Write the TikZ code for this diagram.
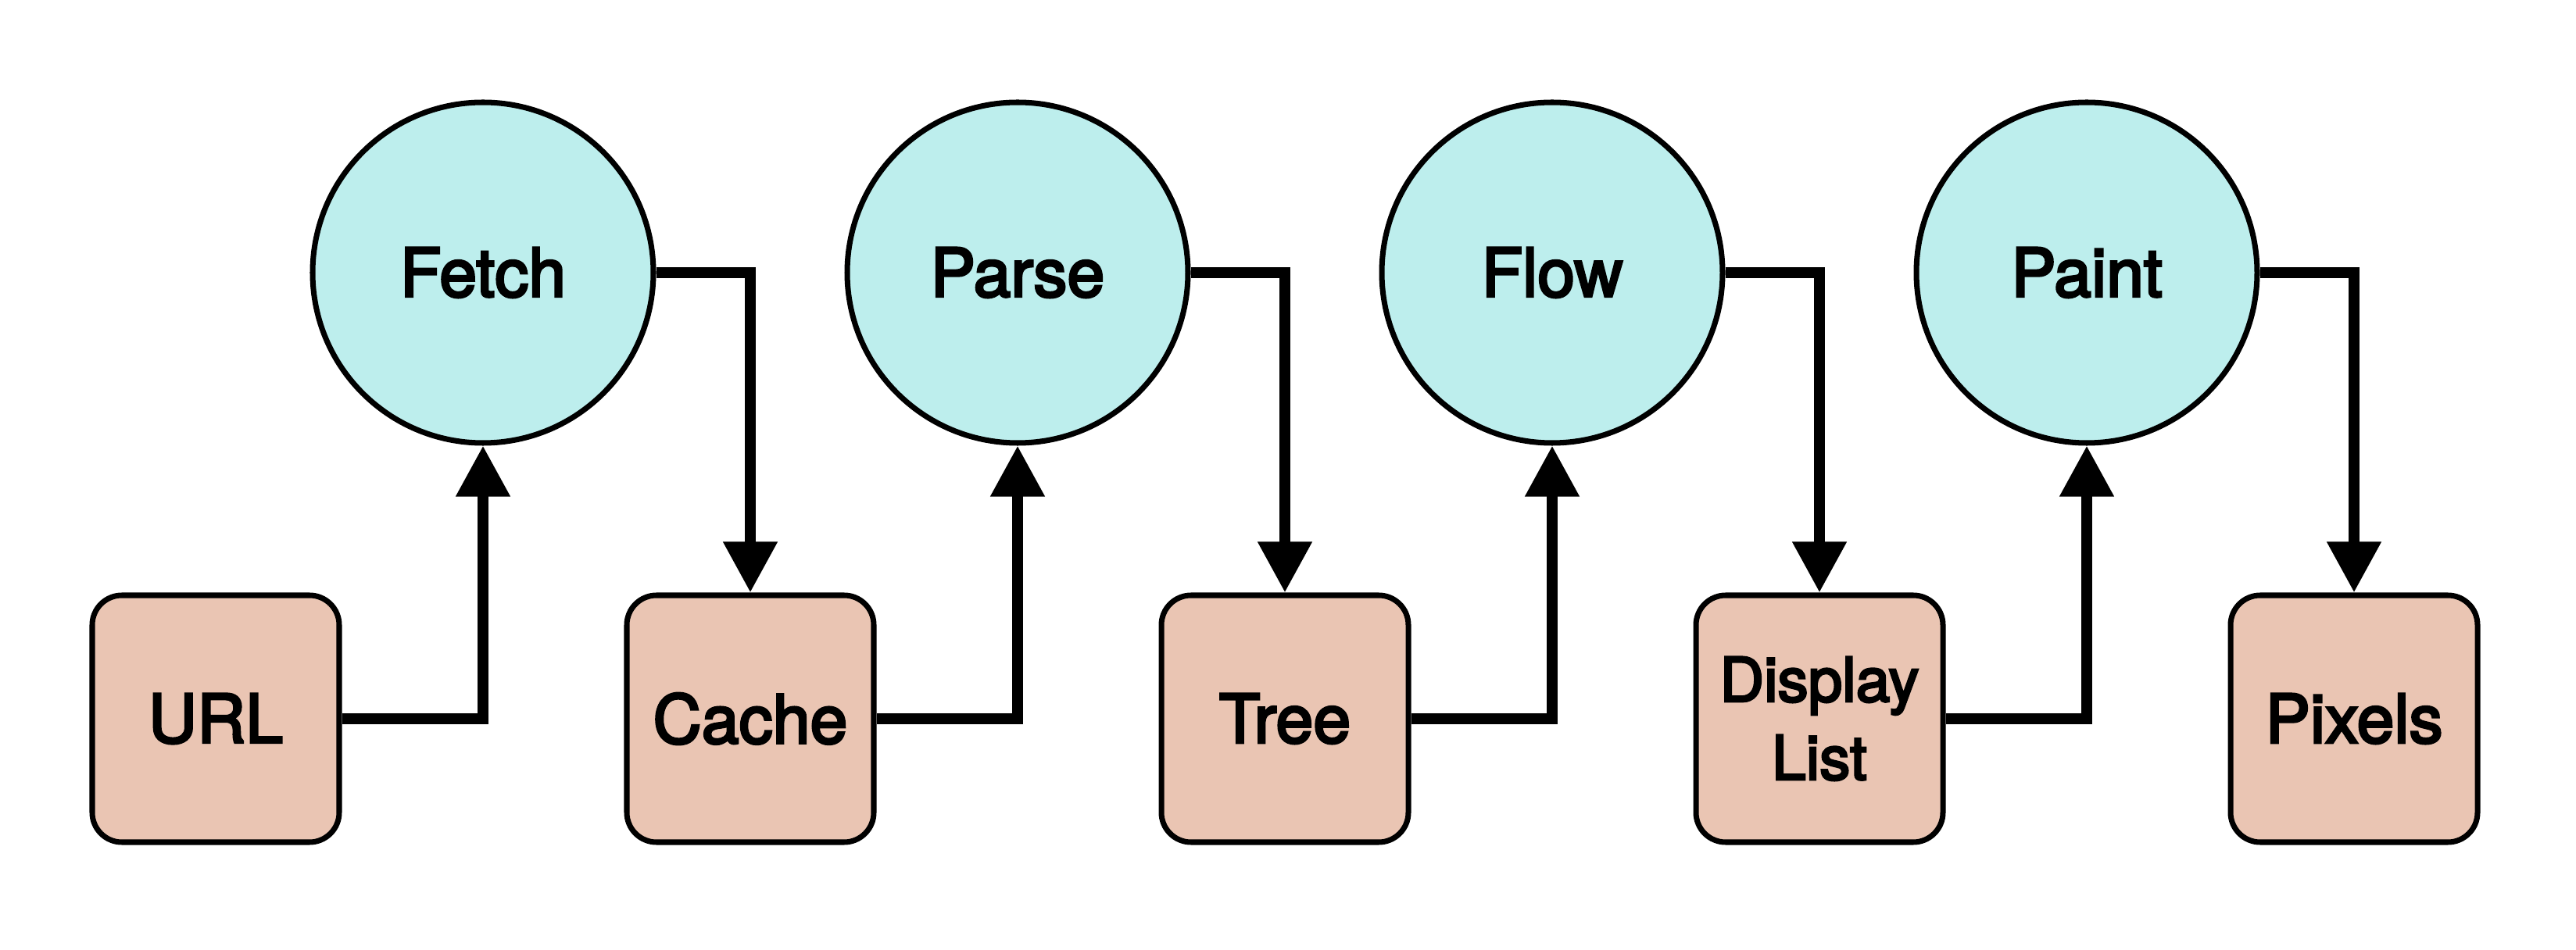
\documentclass[tikz,border=0pt]{standalone}
\usepackage{fontspec}
\setmainfont{TeX Gyre Heros}
\newfontfamily\labelfont{TeX Gyre Heros}[FakeBold=3.5]
\usetikzlibrary{arrows.meta}
\definecolor{stagefill}{RGB}{189,238,237}
\definecolor{datafill}{RGB}{234,197,179}
\begin{document}
\begin{tikzpicture}[
  x=1cm, y=1cm,
  stage/.style={circle, draw=black, line width=2pt, fill=stagefill,
    minimum size=4.36cm, inner sep=0pt,
    font=\labelfont\fontsize{24.5}{30}\selectfont},
  data/.style={rectangle, rounded corners=0.38cm, draw=black, line width=2pt,
    fill=datafill, minimum width=3.16cm, minimum height=3.16cm, inner sep=0pt,
    align=center, font=\labelfont\fontsize{24.5}{30}\selectfont},
  twoline/.style={font=\labelfont\fontsize{22.3}{28.45}\selectfont},
  flow/.style={line width=4pt, -{Triangle[width=0.66cm, length=0.65cm]}}
]
\useasboundingbox[fill=white] (0,0) rectangle (32.96,-12.16);

% processing stages
\node[stage] (fetch) at (6.18,-3.49) {Fetch};
\node[stage] (parse) at (13.02,-3.49) {Parse};
\node[stage] (flowst) at (19.86,-3.49) {Flow};
\node[stage] (paint) at (26.70,-3.49) {Paint};

% data between stages
\node[data] (url) at (2.76,-9.20) {URL};
\node[data] (cache) at (9.60,-9.20) {Cache};
\node[data] (tree) at (16.44,-9.20) {Tree};
\node[data, twoline] (dlist) at (23.28,-9.20) {Display\\List};
\node[data] (pixels) at (30.12,-9.20) {Pixels};

% connectors
\draw[flow] (url.east) -| (fetch.south);
\draw[flow] (fetch.east) -| (cache.north);
\draw[flow] (cache.east) -| (parse.south);
\draw[flow] (parse.east) -| (tree.north);
\draw[flow] (tree.east) -| (flowst.south);
\draw[flow] (flowst.east) -| (dlist.north);
\draw[flow] (dlist.east) -| (paint.south);
\draw[flow] (paint.east) -| (pixels.north);
\end{tikzpicture}
\end{document}
